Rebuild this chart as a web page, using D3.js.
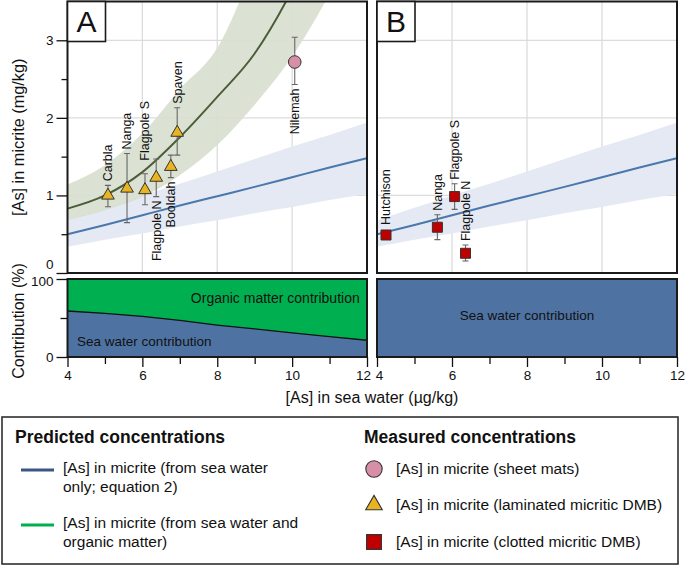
<!DOCTYPE html>
<html>
<head>
<meta charset="utf-8">
<script src="https://cdn.jsdelivr.net/npm/d3@7"></script>
<style>
body { margin: 0; background: #fff; }
svg text { font-family: "Liberation Sans", Arial, sans-serif; fill: #111; }
</style>
</head>
<body>
<svg id="chart" width="685" height="566"></svg>
<script>
// [As] in sea water (ug/kg) where the model curves are read
let seaWater = [4, 5, 6, 7, 8, 9, 10, 11, 12];
// [As] in micrite from sea water only (equation 2) + its range
let swOnly   = [0.50, 0.62, 0.745, 0.87, 0.99, 1.11, 1.235, 1.36, 1.48];
let swOnlyHi = [0.68, 0.84, 1.00, 1.15, 1.31, 1.47, 1.63, 1.78, 1.94];
let swOnlyLo = [0.34, 0.43, 0.51, 0.60, 0.68, 0.77, 0.85, 0.94, 1.02];
// [As] in micrite from sea water + organic matter + its range
let swOrg   = [0.83, 1.00, 1.30, 1.75, 2.27, 2.83, 3.65, 4.70, 6.00];
let swOrgHi = [1.14, 1.39, 1.80, 2.37, 2.90, 3.95, 5.00, 6.30, 8.00];
let swOrgLo = [0.68, 0.81, 0.98, 1.26, 1.65, 2.17, 2.79, 3.60, 4.60];
// sea water share of micrite As (%) in panel A
let seaShare = [59, 56, 52, 47, 41, 36, 31, 26, 21.5];

// measured samples, panel A
let nameA = ["Carbla", "Nanga", "Flagpole S", "Flagpole N", "Booldah", "Spaven", "Nilemah"];
let seaA  = [5.08, 5.59, 6.07, 6.37, 6.76, 6.93, 10.07];
let asA   = [1.00, 1.09, 1.07, 1.23, 1.37, 1.81, 2.72];
let loA   = [0.855, 0.65, 0.88, 0.985, 1.23, 1.52, 2.43];
let hiA   = [1.13, 1.54, 1.28, 1.47, 1.52, 2.13, 3.04];
let typeA = ["laminated", "laminated", "laminated", "laminated", "laminated", "laminated", "sheet"];
// measured samples, panel B
let nameB = ["Hutchison", "Nanga", "Flagpole S", "Flagpole N"];
let seaB  = [4.24, 5.61, 6.07, 6.36];
let asB   = [0.49, 0.59, 0.985, 0.254];
let loB   = [0.49, 0.43, 0.82, 0.155];
let hiB   = [0.49, 0.75, 1.15, 0.36];
let typeB = ["clotted", "clotted", "clotted", "clotted"];

let mark_style = {
  "sheet":     {fill: "#d68fa6", shape: d3.symbolCircle, size: 125},
  "laminated": {fill: "#e9b422", shape: d3.symbolTriangle, size: 70},
  "clotted":   {fill: "#c00000", shape: d3.symbolSquare, size: 100}
};
let labels_below = ["A:Flagpole N", "A:Booldah", "A:Nilemah"];
let label_gap = {"A:Flagpole S": 13};

const svg = d3.select("svg#chart");
const yTop = d3.scaleLinear([0, 3.5], [273, 1.5]);
const yBot = d3.scaleLinear([0, 100], [357, 279]);

function draw_panel(key, x0, x1, withOrg, names, sea, as, lo, hi, types){
  const x = d3.scaleLinear([4, 12], [x0, x1]);
  const g = svg.append("g");
  g.append("clipPath").attr("id", "clip" + key)
    .append("rect").attr("x", x0).attr("y", yTop(3.5)).attr("width", x1 - x0).attr("height", yTop(0) - yTop(3.5));
  const plot = g.append("g").attr("clip-path", "url(#clip" + key + ")");

  // grid
  for (let v of [6, 8, 10]){
    plot.append("line").attr("x1", x(v)).attr("x2", x(v)).attr("y1", yTop(0)).attr("y2", yTop(3.5))
      .attr("stroke", "#dcdcdc").attr("stroke-width", 1.3);
  }
  for (let v of [1, 2, 3]){
    plot.append("line").attr("x1", x0).attr("x2", x1).attr("y1", yTop(v)).attr("y2", yTop(v))
      .attr("stroke", "#dcdcdc").attr("stroke-width", 1.3);
  }

  const idx = d3.range(seaWater.length);
  const band = (hiArr, loArr) => d3.area().curve(d3.curveMonotoneX)
    .x(i => x(seaWater[i])).y0(i => yTop(loArr[i])).y1(i => yTop(hiArr[i]));
  const line = arr => d3.line().curve(d3.curveMonotoneX).x(i => x(seaWater[i])).y(i => yTop(arr[i]));

  plot.append("path").attr("d", band(swOnlyHi, swOnlyLo)(idx)).attr("fill", "#e4e9f3");
  if (withOrg){
    plot.append("path").attr("d", band(swOrgHi, swOrgLo)(idx)).attr("fill", "#d8dfcf").attr("fill-opacity", 0.92);
  }
  plot.append("path").attr("d", line(swOnly)(idx)).attr("fill", "none").attr("stroke", "#4a78ac").attr("stroke-width", 2);
  if (withOrg){
    plot.append("path").attr("d", line(swOrg)(idx)).attr("fill", "none").attr("stroke", "#4b5e3b").attr("stroke-width", 2);
  }

  // samples
  for (let i in names){
    const px = x(sea[i]), py = yTop(as[i]);
    if (hi[i] > lo[i]){
      plot.append("line").attr("x1", px).attr("x2", px).attr("y1", yTop(lo[i])).attr("y2", yTop(hi[i]))
        .attr("stroke", "#666").attr("stroke-width", 1.1);
      for (let v of [lo[i], hi[i]]){
        plot.append("line").attr("x1", px - 3).attr("x2", px + 3).attr("y1", yTop(v)).attr("y2", yTop(v))
          .attr("stroke", "#666").attr("stroke-width", 1.1);
      }
    }
    const st = mark_style[types[i]];
    plot.append("path").attr("d", d3.symbol(st.shape, st.size)())
      .attr("transform", "translate(" + px + "," + py + ")")
      .attr("fill", st.fill).attr("stroke", "#333").attr("stroke-width", 1);

    const id = key + ":" + names[i];
    const below = labels_below.includes(id);
    const gap = label_gap[id] || 4;
    let ly;
    if (below) ly = Math.max(yTop(lo[i]), py + 6) + gap;
    else ly = Math.min(yTop(hi[i]), py - 6) - gap;
    plot.append("text").text(names[i])
      .attr("transform", "translate(" + px + "," + ly + ") rotate(-90)")
      .attr("dy", "0.35em").attr("text-anchor", below ? "end" : "start")
      .attr("font-size", 12.5);
  }

  g.append("rect").attr("x", x0).attr("y", yTop(3.5)).attr("width", x1 - x0).attr("height", yTop(0) - yTop(3.5))
    .attr("fill", "none").attr("stroke", "#1a1a1a").attr("stroke-width", 2);
  // panel letter
  g.append("rect").attr("x", x0).attr("y", yTop(3.5)).attr("width", 38).attr("height", 40)
    .attr("fill", "#fff").attr("stroke", "#1a1a1a").attr("stroke-width", 1.6);
  g.append("text").text(key).attr("x", x0 + 19).attr("y", yTop(3.5) + 20).attr("dy", "0.36em")
    .attr("text-anchor", "middle").attr("font-size", 30);

  // contribution panel
  const share = withOrg ? seaShare : seaWater.map(() => 100);
  const cg = svg.append("g");
  cg.append("rect").attr("x", x0).attr("y", yBot(100)).attr("width", x1 - x0).attr("height", yBot(0) - yBot(100))
    .attr("fill", "#00b050");
  cg.append("path").attr("d", d3.area().x(i => x(seaWater[i])).y0(yBot(0)).y1(i => yBot(share[i]))(idx))
    .attr("fill", "#4e73a3");
  if (withOrg){
    cg.append("path").attr("d", d3.line().x(i => x(seaWater[i])).y(i => yBot(share[i]))(idx))
      .attr("fill", "none").attr("stroke", "#111").attr("stroke-width", 1.3);
    cg.append("text").text("Organic matter contribution").attr("x", x(9.55)).attr("y", yBot(76)).attr("dy", "0.35em")
      .attr("text-anchor", "middle").attr("font-size", 14);
    cg.append("text").text("Sea water contribution").attr("x", x(6.05)).attr("y", yBot(20)).attr("dy", "0.35em")
      .attr("text-anchor", "middle").attr("font-size", 13.5);
  } else {
    cg.append("text").text("Sea water contribution").attr("x", x(8)).attr("y", yBot(53)).attr("dy", "0.35em")
      .attr("text-anchor", "middle").attr("font-size", 13.5);
  }
  cg.append("rect").attr("x", x0).attr("y", yBot(100)).attr("width", x1 - x0).attr("height", yBot(0) - yBot(100))
    .attr("fill", "none").attr("stroke", "#1a1a1a").attr("stroke-width", 2);

  // x axis
  const ax = svg.append("g").attr("transform", "translate(0," + yBot(0) + ")")
    .call(d3.axisBottom(x).tickValues([4, 6, 8, 10, 12]).tickSize(10).tickPadding(3));
  svg.append("g").attr("transform", "translate(0," + yBot(0) + ")")
    .call(d3.axisBottom(x).tickValues([5, 7, 9, 11]).tickSize(7).tickFormat(""))
    .select(".domain").remove();
  ax.select(".domain").remove();
  ax.selectAll("text").attr("font-size", 13.5).attr("fill", "#111")
    .attr("dx", d => d == 12 && key == "A" ? -4 : (d == 4 && key == "B" ? 2 : 0));
  return x;
}

draw_panel("A", 67.5, 367, true, nameA, seaA, asA, loA, hiA, typeA);
draw_panel("B", 377, 677, false, nameB, seaB, asB, loB, hiB, typeB);

// y axes
let yAx = svg.append("g").attr("transform", "translate(67.5,0)")
  .call(d3.axisLeft(yTop).tickValues([0, 1, 2, 3]).tickFormat(d3.format("d")).tickSize(11).tickPadding(3));
yAx.selectAll("text").attr("font-size", 13.5).attr("fill", "#111").attr("dy", d => d == 0 ? "-0.3em" : "0.32em");
svg.append("g").attr("transform", "translate(67.5,0)")
  .call(d3.axisLeft(yTop).tickValues([0.5, 1.5, 2.5]).tickSize(6).tickFormat(""));
let cAx = svg.append("g").attr("transform", "translate(67.5,0)")
  .call(d3.axisLeft(yBot).tickValues([0, 100]).tickSize(11).tickPadding(3));
cAx.selectAll("text").attr("font-size", 13.5).attr("fill", "#111").attr("dy", d => d == 100 ? "0.45em" : "0.32em");
svg.append("g").attr("transform", "translate(67.5,0)")
  .call(d3.axisLeft(yBot).tickValues([50]).tickSize(7).tickFormat(""));
svg.selectAll(".domain").remove();
svg.selectAll(".tick line").attr("stroke", "#111").attr("stroke-width", 1.3);

svg.append("text").text("[As] in micrite (mg/kg)").attr("transform", "translate(18," + yTop(1.75) + ") rotate(-90)")
  .attr("dy", "0.35em").attr("text-anchor", "middle").attr("font-size", 16.3);
svg.append("text").text("Contribution (%)").attr("transform", "translate(18,321) rotate(-90)")
  .attr("dy", "0.35em").attr("text-anchor", "middle").attr("font-size", 16);
svg.append("text").text("[As] in sea water (µg/kg)").attr("x", 372).attr("y", 397).attr("dy", "0.35em")
  .attr("text-anchor", "middle").attr("font-size", 16);

// legend
let leg = svg.append("g");
leg.append("rect").attr("x", 2).attr("y", 417).attr("width", 676).attr("height", 147)
  .attr("fill", "none").attr("stroke", "#222").attr("stroke-width", 1.5);
leg.append("text").text("Predicted concentrations").attr("x", 15).attr("y", 437).attr("dy", "0.35em")
  .attr("font-size", 17.5).attr("font-weight", "bold");
leg.append("text").text("Measured concentrations").attr("x", 364).attr("y", 437).attr("dy", "0.35em")
  .attr("font-size", 17.5).attr("font-weight", "bold");

let predLegend = [
  {color: "#3b5682", lines: ["[As] in micrite (from sea water", "only; equation 2)"], y: 469},
  {color: "#00b050", lines: ["[As] in micrite (from sea water and", "organic matter)"], y: 524}
];
for (let p of predLegend){
  leg.append("line").attr("x1", 21).attr("x2", 54).attr("y1", p.y + 1).attr("y2", p.y + 1)
    .attr("stroke", p.color).attr("stroke-width", 3);
  p.lines.forEach((t, k) => {
    leg.append("text").text(t).attr("x", 63).attr("y", p.y - 1 + k * 19).attr("dy", "0.35em").attr("font-size", 15.5);
  });
}
let measLegend = [
  {type: "sheet", text: "[As] in micrite (sheet mats)", y: 469, size: 210},
  {type: "laminated", text: "[As] in micrite (laminated micritic DMB)", y: 505, size: 120},
  {type: "clotted", text: "[As] in micrite (clotted micritic DMB)", y: 542, size: 220}
];
for (let m of measLegend){
  const st = mark_style[m.type];
  leg.append("path").attr("d", d3.symbol(st.shape, m.size)())
    .attr("transform", "translate(374," + m.y + ")")
    .attr("fill", st.fill).attr("stroke", "#333").attr("stroke-width", 1.1);
  leg.append("text").text(m.text).attr("x", 396).attr("y", m.y).attr("dy", "0.35em").attr("font-size", 15.5);
}
</script>
</body>
</html>
